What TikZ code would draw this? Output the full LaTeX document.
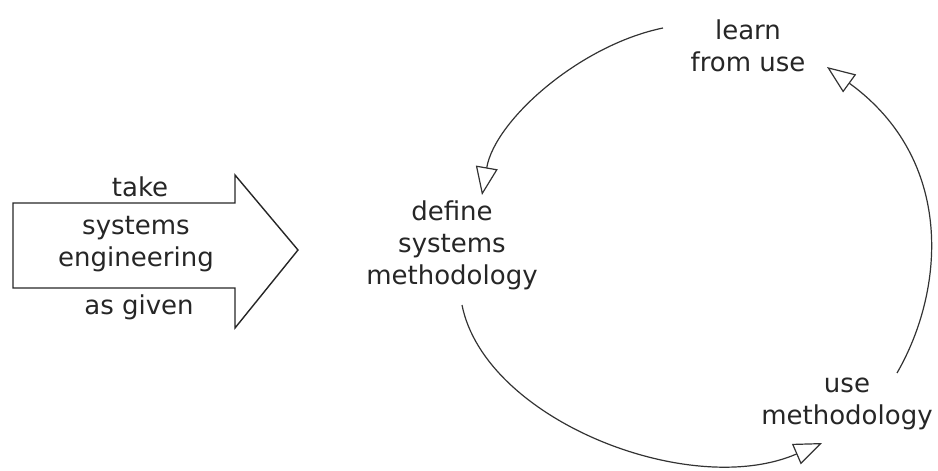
\documentclass[tikz,border=0pt]{standalone}
\usepackage{fontspec}
\setmainfont{DejaVu Sans}
\usetikzlibrary{arrows.meta}
\tikzset{
  label text/.style={font=\fontsize{26}{32}\selectfont, align=center, inner sep=0pt, text=black!85},
  cycle arc/.style={draw=black!80, line width=1.2pt,
    -{Triangle[open, length=28pt, width=22pt, line width=1.2pt]}},
  big arrow/.style={draw=black!85, line width=1.4pt, line join=miter}
}
\begin{document}
\begin{tikzpicture}[x=1pt, y=-1pt]
  \useasboundingbox (0,0) rectangle (938,471);

  % block arrow on the left
  \draw[big arrow] (13,203) -- (235,203) -- (235,175) -- (298,250)
        -- (235,328) -- (235,288) -- (13,288) -- cycle;
  \node[label text] (take)  at (140,187) {take};
  \node[label text] (se)    at (136,244) {systems\\engineering};
  \node[label text] (given) at (139,307) {as given};

  % the three stages of the cycle
  \node[label text] (learn)  at (748,46)  {learn\\from use};
  \node[label text] (define) at (452,245) {define\\systems\\methodology};
  \node[label text] (usem)   at (847,404) {use\\methodology};

  % end points of the cycle arcs
  \coordinate (learn out) at (663,28);
  \coordinate (define in) at (482,195);
  \coordinate (define out) at (462,305);
  \coordinate (usem in) at (822,443);
  \coordinate (usem out) at (897,373);
  \coordinate (learn in) at (827,67);

  \draw[cycle arc] (learn out) .. controls (580,45) and (495,120) .. (define in);
  \draw[cycle arc] (define out) .. controls (485,420) and (690,500) .. (usem in);
  \draw[cycle arc] (usem out) .. controls (945,290) and (955,160) .. (learn in);
\end{tikzpicture}
\end{document}
